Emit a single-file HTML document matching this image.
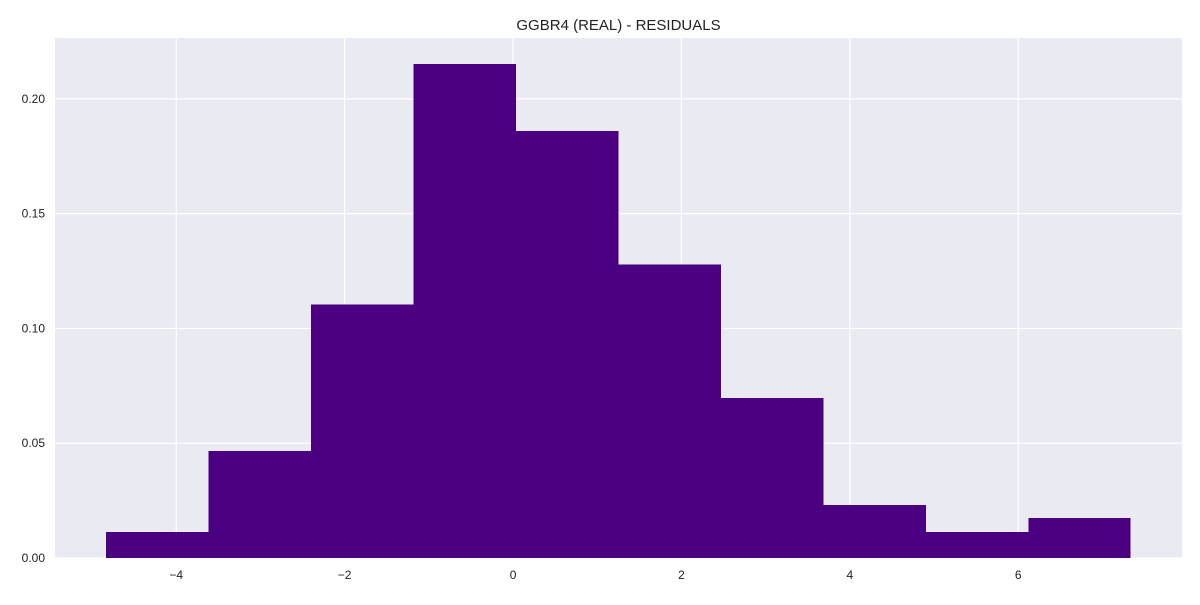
<!DOCTYPE html>
<html><head><meta charset="utf-8"><style>
body{margin:0;background:#fff;font-family:"Liberation Sans",sans-serif;}
</style></head><body>
<svg id="chart" width="1200" height="600"></svg>
<script>
const binEdges=[-4.834,-3.617,-2.400,-1.183,0.034,1.251,2.468,3.685,4.902,6.119,7.336];
const densities=[0.0113,0.0465,0.1104,0.2152,0.1861,0.1278,0.0696,0.0230,0.0113,0.0174];
const xTicks=[-4,-2,0,2,4,6];
const yTicks=[0,0.05,0.10,0.15,0.20];
const yTickLabels=["0.00","0.05","0.10","0.15","0.20"];
const titleText="GGBR4 (REAL) - RESIDUALS";

const L=55,R=1182,T=38,B=558;
const xMin=-5.44,xMax=7.945,yMin=0,yMax=0.2265;
const sx=v=>L+(v-xMin)/(xMax-xMin)*(R-L);
const sy=v=>B-(v-yMin)/(yMax-yMin)*(B-T);
const svg=document.getElementById('chart');
const NS='http://www.w3.org/2000/svg';
function mk(tag,attrs,parent){const e=document.createElementNS(NS,tag);for(const k in attrs)e.setAttribute(k,attrs[k]);(parent||svg).appendChild(e);return e;}

const bg=mk('rect',{x:L,y:T,width:R-L,height:B-T,fill:'#eaeaf2'});



xTicks.forEach(v=>{
  const g=mk('line',{x1:sx(v),x2:sx(v),y1:T,y2:B,stroke:'#fff','stroke-width':1.2});
  
  
  const t=mk('text',{x:sx(v),y:B+21,'text-anchor':'middle','font-size':12,fill:'#222'});
  t.textContent=(v<0?'\u2212'+(-v):String(v));
  
  
});
yTicks.forEach((v,i)=>{
  const g=mk('line',{x1:L,x2:R,y1:sy(v),y2:sy(v),stroke:'#fff','stroke-width':1.2});
  
  
  const t=mk('text',{x:L-10,y:sy(v)+4,'text-anchor':'end','font-size':12,fill:'#222'});
  t.textContent=yTickLabels[i];
  
  
});
densities.forEach((d,i)=>{
  const x0=sx(binEdges[i]),x1=sx(binEdges[i+1]);
  const r=mk('rect',{x:x0,y:sy(d),width:x1-x0,height:sy(0)-sy(d),fill:'#4b0082','shape-rendering':'crispEdges'});
  
  
});
const title=mk('text',{x:(L+R)/2,y:30,'text-anchor':'middle','font-size':15,fill:'#222'});
title.textContent=titleText;


</script>
</body></html>
